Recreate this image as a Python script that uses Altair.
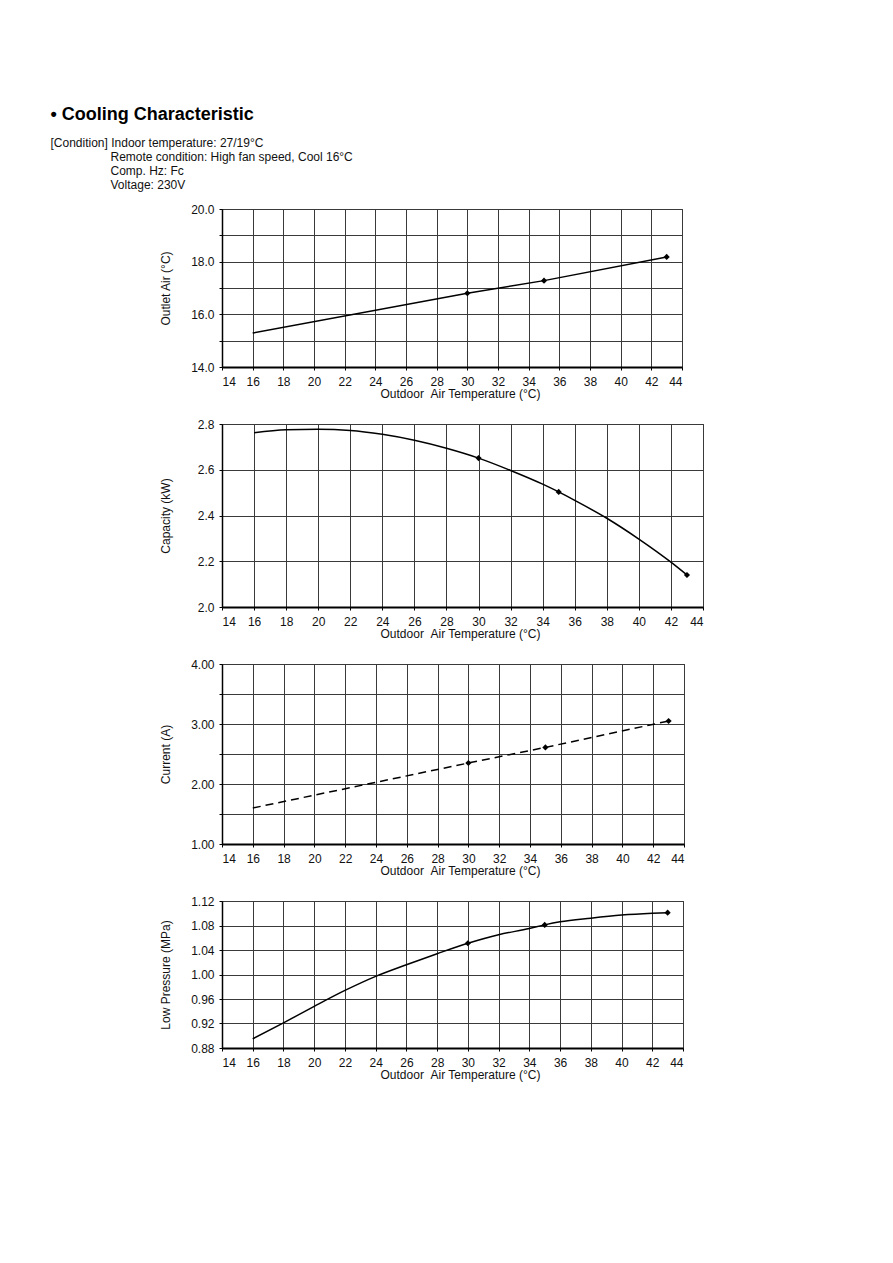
import altair as alt
import pandas as pd

FONT = "Liberation Sans"
X_TICKS = list(range(14, 45, 2))
X_TITLE = "Outdoor\u00a0\u00a0Air Temperature (°C)"

# Outlet air temperature
outlet_t = [16, 30, 35, 43]
outlet_v = [15.29, 16.8, 17.28, 18.18]
outlet_pt_t = [30, 35, 43]
outlet_pt_v = [16.8, 17.28, 18.18]

# Capacity
capacity_t = [16, 18, 20, 22, 24, 26, 28, 30, 32, 34, 35, 36, 38, 40, 42, 43]
capacity_v = [2.762, 2.775, 2.777, 2.772, 2.755, 2.729, 2.694, 2.651, 2.597,
              2.537, 2.503, 2.466, 2.388, 2.297, 2.196, 2.14]
capacity_pt_t = [30, 35, 43]
capacity_pt_v = [2.651, 2.503, 2.14]

# Current
current_t = [16, 30, 35, 43]
current_v = [1.6, 2.35, 2.61, 3.05]
current_pt_t = [30, 35, 43]
current_pt_v = [2.35, 2.61, 3.05]

# Low pressure
pressure_t = [16, 18, 20, 22, 24, 26, 28, 30, 32, 34, 35, 36, 38, 40, 42, 43]
pressure_v = [0.895, 0.921, 0.948, 0.974, 0.997, 1.016, 1.034, 1.051, 1.065,
              1.075, 1.081, 1.086, 1.092, 1.097, 1.100, 1.101]
pressure_pt_t = [30, 35, 43]
pressure_pt_v = [1.051, 1.081, 1.101]

outlet_grid = [14, 15, 16, 17, 18, 19, 20]
capacity_grid = [2.0, 2.2, 2.4, 2.6, 2.8]
current_grid = [1.0, 1.5, 2.0, 2.5, 3.0, 3.5, 4.0]
pressure_grid = [0.88, 0.92, 0.96, 1.00, 1.04, 1.08, 1.12]

INDENT = "\u200b" + "\u00a0" * 18
condition_lines = [
    "[Condition] Indoor temperature: 27/19°C",
    INDENT + "Remote condition: High fan speed, Cool 16°C",
    INDENT + "Comp. Hz: Fc",
    INDENT + "Voltage: 230V",
]


def panel(line_t, line_v, pt_t, pt_v, ydom, ygrid, label_expr, ytitle, w, h,
          interp="linear", dash=None):
    line_df = pd.DataFrame({"t": line_t, "v": line_v})
    pt_df = pd.DataFrame({"t": pt_t, "v": pt_v})
    x = alt.X(
        "t:Q",
        scale=alt.Scale(domain=[14, 44], nice=False, zero=False),
        axis=alt.Axis(
            values=X_TICKS, tickCount=len(X_TICKS), format="d", title=X_TITLE,
            grid=True, labelOverlap=False,
            titleX=238, titleY=21, titleBaseline="top", titleAlign="center",
            domainColor="black", domainWidth=2, tickSize=3, labelPadding=6,
        ),
    )
    y = alt.Y(
        "v:Q",
        scale=alt.Scale(domain=ydom, nice=False, zero=False),
        axis=alt.Axis(
            values=ygrid, tickCount=len(ygrid), labelExpr=label_expr,
            title=ytitle, grid=True, labelOverlap=False,
            titleX=-50, titleY=h / 2, titleAngle=270, titleAlign="center",
            domainColor="black", domainWidth=1.5, tickSize=3, labelPadding=5,
        ),
    )
    mk = dict(color="black", strokeWidth=1.5, interpolate=interp)
    if dash:
        mk["strokeDash"] = dash
    line = alt.Chart(line_df).mark_line(**mk).encode(x=x, y=y)
    pts = alt.Chart(pt_df).mark_point(
        shape="diamond", filled=True, color="black", size=38, opacity=1
    ).encode(x="t:Q", y="v:Q")
    return alt.layer(line, pts).properties(width=w, height=h)


c1 = panel(outlet_t, outlet_v, outlet_pt_t, outlet_pt_v, [14, 20], outlet_grid,
           "datum.value % 2 === 0 ? format(datum.value, '.1f') : ''",
           "Outlet Air (°C)", 460, 158)
c2 = panel(capacity_t, capacity_v, capacity_pt_t, capacity_pt_v, [2.0, 2.8],
           capacity_grid, "format(datum.value, '.1f')",
           "Capacity (kW)", 481, 183, interp="monotone")
c3 = panel(current_t, current_v, current_pt_t, current_pt_v, [1.0, 4.0],
           current_grid,
           "datum.value % 1 === 0 ? format(datum.value, '.2f') : ''",
           "Current (A)", 462, 180, dash=[8, 5])
c4 = panel(pressure_t, pressure_v, pressure_pt_t, pressure_pt_v, [0.88, 1.12],
           pressure_grid, "format(datum.value, '.2f')",
           "Low Pressure (MPa)", 461, 147, interp="monotone")

chart = alt.vconcat(c1, c2, c3, c4, spacing=17).properties(
    title=alt.TitleParams(
        text="• Cooling Characteristic",
        subtitle=condition_lines,
        anchor="start",
        font=FONT, fontSize=18, fontWeight="bold", color="black",
        subtitleFont=FONT, subtitleFontSize=12, subtitleColor="#111",
        subtitleLineHeight=14, subtitlePadding=14,
        offset=12, dx=-108,
    ),
    padding={"left": 50, "top": 105, "right": 10, "bottom": 10},
    background="white",
).configure_view(
    stroke="#222", strokeWidth=1
).configure_axis(
    labelFont=FONT, titleFont=FONT, labelFontSize=12, titleFontSize=12,
    labelColor="#111", titleColor="#111", titleFontWeight="normal",
    gridColor="#3a3a3a", gridWidth=1, gridOpacity=1, tickColor="black",
)

chart.save("out.html", embed_options={"renderer": "svg", "actions": False})
